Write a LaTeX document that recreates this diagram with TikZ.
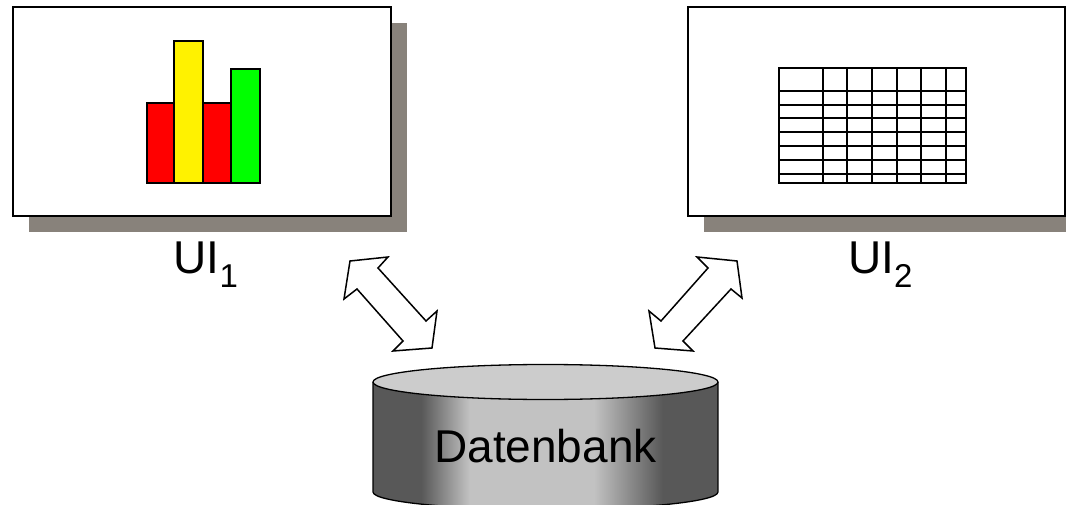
\documentclass[tikz,border=0pt]{standalone}
\usepackage{fontspec}
\setmainfont{Liberation Sans}
\usetikzlibrary{shadows}
\usepackage{xcolor}

\definecolor{uishadow}{RGB}{136,130,123}
\definecolor{dbdark}{RGB}{88,88,88}
\definecolor{dblight}{RGB}{194,194,194}
\definecolor{dbtop}{RGB}{204,204,204}

\pgfdeclarehorizontalshading{dbbody}{100bp}{color(0bp)=(dbdark); color(32bp)=(dbdark); color(39bp)=(dblight); color(57bp)=(dblight); color(67bp)=(dbdark); color(100bp)=(dbdark)}

\tikzset{
  uibox/.style={draw, fill=white, line width=2pt, minimum height=209pt, inner sep=0pt,
    general shadow={fill=uishadow, draw=none, shadow xshift=16pt, shadow yshift=-16pt}},
  bar/.style={draw, line width=1.5pt},
  blockarrow/.style={draw, line width=1.5pt, fill=white, line join=miter},
  uilabel/.style={anchor=base west, inner sep=0pt, font=\fontsize{46}{50}\selectfont}
}

\newcommand{\uisub}[1]{\raisebox{-14pt}{\fontsize{33}{33}\selectfont #1}}

\begin{document}
\begin{tikzpicture}[x=1pt,y=-1pt]
\useasboundingbox (0,0) rectangle (1066,505);

% user interfaces
\node[uibox, minimum width=378pt] (ui1) at (202,111.5) {};
\node[uibox, minimum width=377pt] (ui2) at (876.5,111.5) {};

\node[uilabel] (ui1label) at (173.4,273) {UI\uisub{1}};
\node[uilabel] (ui2label) at (848,273) {UI\uisub{2}};

% bar chart
\draw[bar, fill=red] (147,183) rectangle (174,103);
\draw[bar, fill=yellow] (174,183) rectangle (203,41);
\draw[bar, fill=red] (203,183) rectangle (231,103);
\draw[bar, fill=green] (231,183) rectangle (260,69);

% table
\draw[line width=1.3pt] (779,68) rectangle (966,183);
\foreach \x in {823,847,872,897,921,946}
  \draw[line width=1.3pt] (\x,68) -- (\x,183);
\foreach \y in {91,105,118,132,146,160,174}
  \draw[line width=1.3pt] (779,\y) -- (966,\y);

% database
\shade[shading=dbbody] (373,382) -- (373,492)
  arc[start angle=180,end angle=360,x radius=172.5pt,y radius=17.5pt] -- (718,382) -- cycle;
\draw[line width=1.3pt] (373,382) -- (373,492)
  arc[start angle=180,end angle=360,x radius=172.5pt,y radius=17.5pt] -- (718,382);
\draw[line width=1.3pt, fill=dbtop] (545.5,382) ellipse[x radius=172.5pt, y radius=17.5pt];
\node[anchor=base, inner sep=0pt, font=\fontsize{46}{50}\selectfont] (db) at (545.5,462) {Datenbank};

% arrows
\draw[blockarrow] (350,261) -- (388,257) -- (378,268) -- (426,321) -- (437,311)
  -- (432,348) -- (393,351) -- (403,341) -- (357,289) -- (344,299) -- cycle;
\draw[blockarrow] (737,261) -- (742,298) -- (731,289) -- (683,341) -- (693,351)
  -- (655,348) -- (649,311) -- (661,321) -- (708,268) -- (697,257) -- cycle;

\end{tikzpicture}
\end{document}
